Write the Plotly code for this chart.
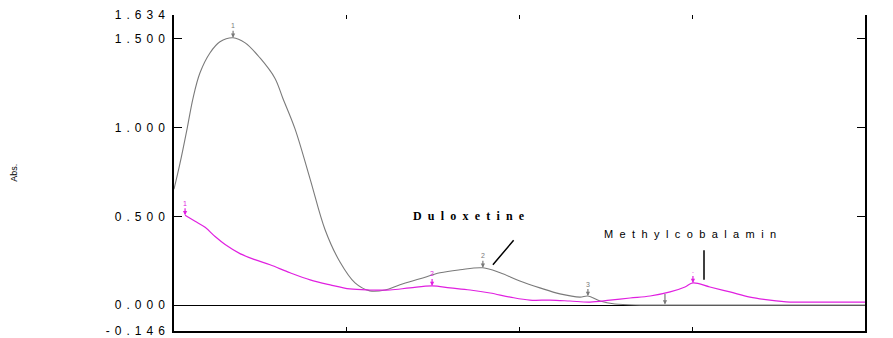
import plotly.graph_objects as go

# Wavelength (nm) and absorbance values
dulox_x = [200.0, 201.7, 203.8, 205.5, 207.5, 210.4, 213.3, 217.1, 220.6, 224.9, 229.2, 231.5,
           235.0, 239.4, 243.7, 248.0, 252.4, 256.7, 261.1, 265.4, 271.2, 277.0, 282.8, 289.4,
           294.4, 300.1, 305.9, 311.7, 317.5, 319.8, 323.3, 327.6, 334.9, 342.1, 400.0]
dulox_y = [0.653, 0.795, 0.994, 1.165, 1.307, 1.420, 1.483, 1.506, 1.477, 1.392, 1.278, 1.165,
           0.994, 0.710, 0.426, 0.244, 0.125, 0.080, 0.085, 0.114, 0.148, 0.182, 0.199, 0.210,
           0.182, 0.136, 0.097, 0.063, 0.045, 0.051, 0.023, 0.006, 0.000, 0.000, 0.000]

mecob_x = [203.2, 206.1, 209.0, 211.9, 214.8, 219.1, 223.4, 227.8, 233.6, 239.4, 245.2, 250.9,
           256.7, 262.5, 268.3, 274.7, 279.9, 285.7, 291.5, 297.3, 303.0, 308.8, 314.6, 320.4,
           326.2, 332.0, 337.8, 343.6, 347.9, 350.2, 355.1, 360.9, 366.7, 372.5, 378.3, 384.1, 400.0]
mecob_y = [0.506, 0.472, 0.438, 0.386, 0.341, 0.290, 0.256, 0.227, 0.182, 0.142, 0.114, 0.091,
           0.085, 0.085, 0.097, 0.108, 0.097, 0.085, 0.068, 0.045, 0.028, 0.028, 0.023, 0.017,
           0.028, 0.040, 0.051, 0.074, 0.102, 0.125, 0.102, 0.074, 0.045, 0.028, 0.017, 0.017, 0.017]

# Peak / valley picks (wavelength, absorbance, label)
dulox_picks_x = [217.1, 289.4, 319.8, 342.1]
dulox_picks_y = [1.506, 0.210, 0.051, 0.003]
dulox_picks_t = ["1", "2", "3", ""]
mecob_picks_x = [203.2, 274.7, 350.2]
mecob_picks_y = [0.506, 0.108, 0.125]
mecob_picks_t = ["1", "2", "."]

y_tickvals = [-0.146, 0.0, 0.5, 1.0, 1.5, 1.634]
y_ticktext = ["-0.146", "0.000", "0.500", "1.000", "1.500", "1.634"]
x_tickvals = [250, 300, 350]

GRAY = "#7a7a7a"
MAG = "#e020e0"


def spaced(t, px):
    return '<span style="letter-spacing:%.1fpx">%s</span>' % (px, t)


fig = go.Figure()
fig.add_trace(go.Scatter(x=dulox_x, y=dulox_y, mode="lines", line=dict(color=GRAY, width=1.1),
                         line_shape="spline", showlegend=False, hoverinfo="skip"))
fig.add_trace(go.Scatter(x=mecob_x, y=mecob_y, mode="lines", line=dict(color=MAG, width=1.2),
                         line_shape="spline", showlegend=False, hoverinfo="skip"))

annotations = []
for xs, ys, ts, col in [(dulox_picks_x, dulox_picks_y, dulox_picks_t, GRAY),
                        (mecob_picks_x, mecob_picks_y, mecob_picks_t, MAG)]:
    for x, y, t in zip(xs, ys, ts):
        annotations.append(dict(x=x, y=y, xref="x", yref="y", text=t, showarrow=True,
                                arrowhead=2, arrowsize=0.7, arrowwidth=1.2, arrowcolor=col,
                                ax=0, ay=-12, font=dict(size=7, color=col)))

annotations += [
    dict(x=286.0, y=0.50, xref="x", yref="y", text="<b>" + spaced("Duloxetine", 6.2) + "</b>",
         showarrow=False, font=dict(family="Liberation Serif", size=12, color="black")),
    dict(x=292.3, y=0.227, xref="x", yref="y", text="", showarrow=True, arrowhead=0,
         arrowwidth=1.5, arrowcolor="black", ax=22, ay=-26),
    dict(x=350.5, y=0.398, xref="x", yref="y", text=spaced("Methylcobalamin", 6.4),
         showarrow=False, font=dict(family="Liberation Sans", size=11, color="black")),
    dict(x=353.4, y=0.142, xref="x", yref="y", text="", showarrow=True, arrowhead=0,
         arrowwidth=1.5, arrowcolor="black", ax=0, ay=-31),
    dict(x=-0.242, y=0.5, xref="paper", yref="paper", text="Abs.", textangle=-90,
         showarrow=False, font=dict(family="Liberation Sans", size=9, color="black")),
]

fig.update_layout(
    width=893, height=338,
    margin=dict(l=166, r=36, t=7, b=15),
    paper_bgcolor="white", plot_bgcolor="white",
    font=dict(family="Liberation Sans", size=11, color="black"),
    annotations=annotations,
    xaxis=dict(range=[200, 400], tickvals=x_tickvals, showticklabels=False, ticks="inside",
               ticklen=4, tickcolor="black", showline=True, linecolor="black", linewidth=1.5,
               showgrid=False, zeroline=False, automargin=False),
    xaxis2=dict(range=[200, 400], overlaying="x", side="top", tickvals=x_tickvals,
                showticklabels=False, ticks="inside", ticklen=4, tickcolor="black",
                showline=False, showgrid=False, zeroline=False, automargin=False),
    yaxis=dict(range=[-0.146, 1.634], tickvals=y_tickvals,
               ticktext=[spaced(t, 5) for t in y_ticktext],
               ticks="inside", ticklen=8, tickcolor="black", showline=True, linecolor="black",
               linewidth=1.5, showgrid=False, zeroline=True, zerolinecolor="black",
               zerolinewidth=1.2, tickfont=dict(size=12), automargin=False),
    yaxis2=dict(range=[-0.146, 1.634], overlaying="y", side="right", tickvals=[0.5, 1.0, 1.5],
                showticklabels=False, ticks="inside", ticklen=8, tickcolor="black",
                showline=True, linecolor="black", linewidth=1.5, showgrid=False, zeroline=False,
                automargin=False),
)
# invisible trace to activate the secondary axes
fig.add_trace(go.Scatter(x=[200], y=[0], xaxis="x2", yaxis="y2", mode="markers",
                         marker=dict(opacity=0), showlegend=False, hoverinfo="skip"))

fig.write_html("out.html")
